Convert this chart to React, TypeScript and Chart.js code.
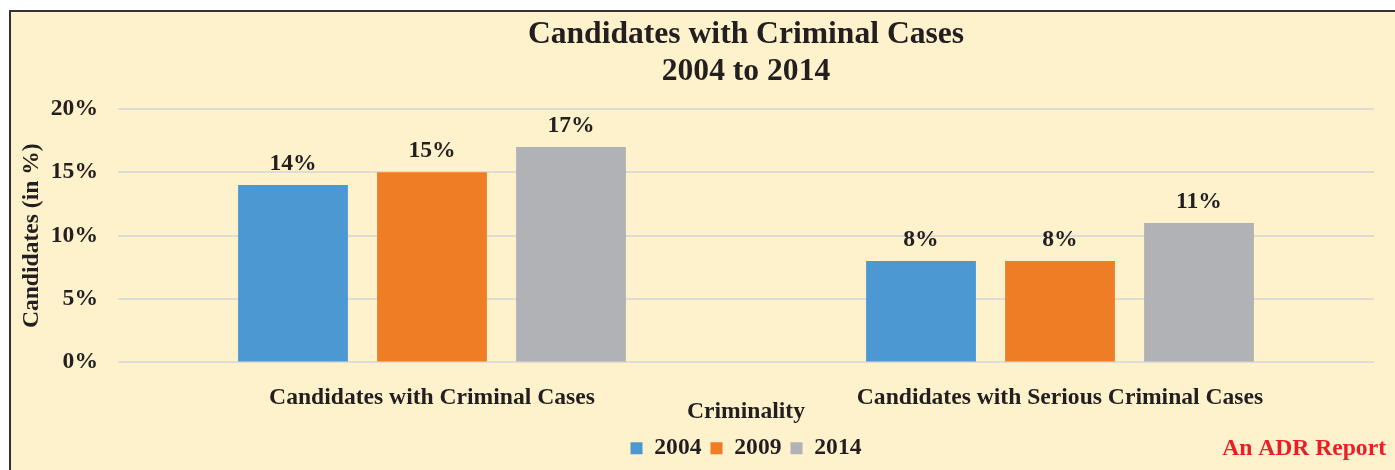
import React, { useEffect, useRef } from "react";
import { Chart, registerables } from "chart.js";

Chart.register(...registerables);

const categories = ["Candidates with Criminal Cases", "Candidates with Serious Criminal Cases"];
const seriesLabels = ["2004", "2009", "2014"];
const values2004 = [14, 8];
const values2009 = [15, 8];
const values2014 = [17, 11];
const yTicks = [0, 5, 10, 15, 20];
const titleLines = ["Candidates with Criminal Cases", "2004 to 2014"];
const xAxisTitle = "Criminality";
const yAxisTitle = "Candidates (in %)";
const footnote = "An ADR Report";

const COLORS = ["#4C98D2", "#EE7D26", "#B1B2B6"];
const TEXT = "#231F20";
const FONT = "'Liberation Serif', 'Times New Roman', serif";
const FS = 23.6;

const backgroundPlugin = {
  id: "bgBox",
  beforeDraw(chart: any) {
    const { ctx, width, height } = chart;
    ctx.save();
    ctx.fillStyle = "#FFFFFF";
    ctx.fillRect(0, 0, width, height);
    ctx.fillStyle = "#FDF2CC";
    ctx.fillRect(9, 10, width - 9, height - 10);
    ctx.strokeStyle = "#333333";
    ctx.lineWidth = 2;
    ctx.beginPath();
    ctx.moveTo(10, height + 5);
    ctx.lineTo(10, 11);
    ctx.lineTo(width + 5, 11);
    ctx.stroke();
    ctx.restore();
  },
};

const valueLabelPlugin = {
  id: "valueLabels",
  afterDatasetsDraw(chart: any) {
    const { ctx } = chart;
    ctx.save();
    ctx.font = `bold ${FS}px ${FONT}`;
    ctx.fillStyle = TEXT;
    ctx.textAlign = "center";
    ctx.textBaseline = "alphabetic";
    chart.data.datasets.forEach((ds: any, di: number) => {
      const meta = chart.getDatasetMeta(di);
      meta.data.forEach((bar: any, i: number) => {
        ctx.fillText(`${ds.data[i]}%`, bar.x, bar.y - 15.5);
      });
    });
    ctx.restore();
  },
};

const footnotePlugin = {
  id: "footnote",
  afterDraw(chart: any) {
    const { ctx } = chart;
    ctx.save();
    ctx.font = `bold ${FS}px ${FONT}`;
    ctx.fillStyle = "#EE1C25";
    ctx.textAlign = "right";
    ctx.textBaseline = "alphabetic";
    ctx.fillText(footnote, 1386, 455);
    ctx.restore();
  },
};

export default function App() {
  const canvasRef = useRef<HTMLCanvasElement | null>(null);

  useEffect(() => {
    if (!canvasRef.current) return;
    const chart = new Chart(canvasRef.current, {
      type: "bar",
      data: {
        labels: categories,
        datasets: [values2004, values2009, values2014].map((d, i) => ({
          label: seriesLabels[i],
          data: d,
          backgroundColor: COLORS[i],
          borderWidth: 0,
          categoryPercentage: 0.664,
          barPercentage: 0.79,
        })),
      },
      options: {
        responsive: false,
        animation: false,
        devicePixelRatio: 1,
        layout: { padding: { left: 10, right: 21, top: 0, bottom: 0 } },
        plugins: {
          title: {
            display: true,
            text: titleLines,
            color: TEXT,
            fullSize: false,
            font: { family: FONT, size: 31.6, weight: "bold", lineHeight: 37 / 31.6 },
            padding: { top: 16.5, bottom: 18.5 },
          },
          legend: {
            display: true,
            position: "bottom",
            fullSize: false,
            labels: {
              color: TEXT,
              font: { family: FONT, size: FS, weight: "bold" },
              boxWidth: 12,
              boxHeight: 12,
              padding: 9,
            },
          },
          tooltip: { enabled: false },
        },
        scales: {
          x: {
            grid: { display: false },
            border: { display: false },
            ticks: {
              color: TEXT,
              font: { family: FONT, size: FS, weight: "bold", lineHeight: 1.2 },
              padding: 13,
              maxRotation: 0,
            },
            title: {
              display: true,
              text: xAxisTitle,
              color: TEXT,
              font: { family: FONT, size: FS, weight: "bold", lineHeight: 1.2 },
              padding: { top: 0, bottom: 1.5 },
            },
            afterFit(scale: any) {
              scale.height = 65;
            },
          },
          y: {
            min: yTicks[0],
            max: yTicks[yTicks.length - 1],
            border: { display: false },
            grid: { color: "#DEDCD4", lineWidth: 2, drawTicks: false },
            afterBuildTicks(scale: any) {
              scale.ticks = yTicks.map((v) => ({ value: v }));
            },
            ticks: {
              color: TEXT,
              font: { family: FONT, size: FS, weight: "bold" },
              padding: 20,
              callback: (v: any) => `${v}%`,
            },
            title: {
              display: true,
              text: yAxisTitle,
              color: TEXT,
              font: { family: FONT, size: FS, weight: "bold", lineHeight: 1.2 },
              padding: { top: 8, bottom: 0 },
            },
            afterFit(scale: any) {
              scale.width = 108;
            },
          },
        },
      },
      plugins: [backgroundPlugin, valueLabelPlugin, footnotePlugin],
    } as any);
    return () => chart.destroy();
  }, []);

  return (
    <div style={{ position: "fixed", left: 0, top: 0, width: 1395, height: 470, background: "#fff" }}>
      <canvas ref={canvasRef} width={1395} height={470} style={{ display: "block", width: 1395, height: 470 }} />
    </div>
  );
}
